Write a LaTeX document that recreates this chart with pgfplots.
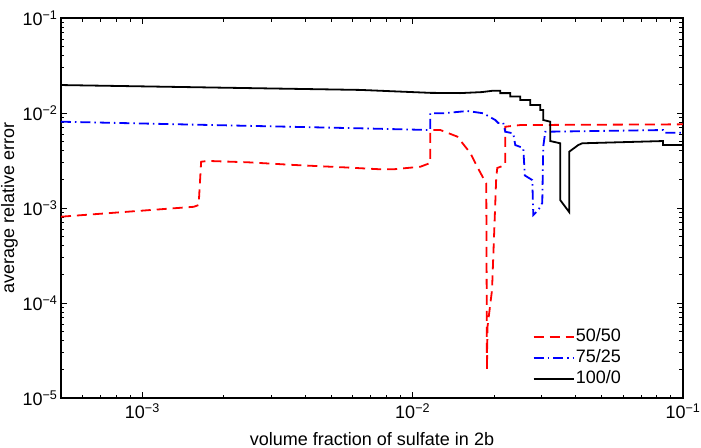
\documentclass[border=0pt]{standalone}
\usepackage{fontspec}
\setmainfont{Liberation Sans}
\usepackage{pgfplots}
\pgfplotsset{compat=1.18}
\newcommand{\figfont}{\fontsize{18bp}{21bp}\selectfont}
\newcommand{\tenpow}[1]{10\textsuperscript{−#1}}

\begin{document}
\begin{tikzpicture}
\begin{loglogaxis}[
  scale only axis, width=622bp, height=380bp,
  xmin=5e-4, xmax=0.1, ymin=1e-5, ymax=1e-1,
  xtick={1e-3,1e-2,1e-1},
  xticklabels={\tenpow{3},\tenpow{2},\tenpow{1}},
  minor xtick={6e-4,7e-4,8e-4,9e-4,2e-3,3e-3,4e-3,5e-3,6e-3,7e-3,8e-3,9e-3,
               2e-2,3e-2,4e-2,5e-2,6e-2,7e-2,8e-2,9e-2},
  ytick={1e-5,1e-4,1e-3,1e-2,1e-1},
  yticklabels={\tenpow{5},\tenpow{4},\tenpow{3},\tenpow{2},\tenpow{1}},
  minor ytick={2e-5,3e-5,4e-5,5e-5,6e-5,7e-5,8e-5,9e-5,
               2e-4,3e-4,4e-4,5e-4,6e-4,7e-4,8e-4,9e-4,
               2e-3,3e-3,4e-3,5e-3,6e-3,7e-3,8e-3,9e-3,
               2e-2,3e-2,4e-2,5e-2,6e-2,7e-2,8e-2,9e-2},
  tick align=inside, tick pos=both,
  major tick length=6bp, minor tick length=3.5bp,
  every tick/.style={black, line width=0.8bp},
  axis line style={line width=1.2bp},
  tick label style={font=\figfont, black},
  xticklabel style={yshift=-2bp},
  label style={font=\figfont},
  xlabel={volume fraction of sulfate in 2b},
  xlabel style={at={(axis description cs:0.5,-0.1237)}, anchor=base},
  ylabel={average relative error},
  ylabel style={at={(axis description cs:-0.083,0.5)}, anchor=center, rotate=0},
  legend style={font=\figfont, draw=none, fill=none,
    at={(rel axis cs:0.758,0.188)}, anchor=north west,
    inner sep=0pt, row sep=1bp,
    nodes={inner sep=1.5bp, text height=13bp, text depth=4bp}},
  legend cell align=left,
  legend image code/.code={\draw[#1] (0bp,0bp) -- (40bp,0bp);},
  every axis plot/.append style={line width=1.8bp},
]
% 50/50 mixture
\addplot[red, dash pattern=on 10bp off 6bp] coordinates {
  (5e-4,8.1e-4) (1.55e-3,1.03e-3) (1.615e-3,1.075e-3) (1.65e-3,3.07e-3)
  (1.743e-3,3.13e-3) (2.45e-3,3.03e-3) (3.62e-3,2.84e-3) (5.55e-3,2.68e-3)
  (7.6e-3,2.555e-3) (8.48e-3,2.555e-3) (1.068e-2,2.72e-3) (1.162e-2,2.98e-3)
  (1.162e-2,6.62e-3) (1.266e-2,6.62e-3) (1.463e-2,5.64e-3) (1.634e-2,3.79e-3)
  (1.735e-2,2.70e-3) (1.856e-2,1.89e-3) (1.872e-2,1.83e-3) (1.883e-2,1.97e-5)
  (1.892e-2,5.63e-5) (1.966e-2,1.37e-4) (2.038e-2,2.12e-3) (2.056e-2,2.64e-3)
  (2.2e-2,2.84e-3) (2.2e-2,7.17e-3) (2.5e-2,7.47e-3) (0.1,7.6e-3)
};
\addlegendentry{50/50}
% 75/25 mixture
\addplot[blue, dash pattern=on 10bp off 4bp on 1.5bp off 4bp] coordinates {
  (5e-4,8.1e-3) (6.41e-3,6.9e-3) (1.162e-2,6.62e-3) (1.162e-2,9.93e-3)
  (1.299e-2,9.93e-3) (1.593e-2,1.05e-2) (1.825e-2,9.93e-3) (2.021e-2,8.44e-3)
  (2.073e-2,7.85e-3) (2.163e-2,7.9e-3) (2.2e-2,6.35e-3) (2.355e-2,6.11e-3)
  (2.396e-2,4.6e-3) (2.565e-2,4.28e-3) (2.6e-2,2.2e-3) (2.77e-2,1.97e-3)
  (2.794e-2,8.44e-4) (2.915e-2,9.52e-4) (3.016e-2,1.13e-3) (3.041e-2,4.42e-3)
  (3.094e-2,6.35e-3) (8.44e-2,6.62e-3) (8.5e-2,6.2e-3) (0.1,6.2e-3)
};
\addlegendentry{75/25}
% pure sulfate
\addplot[black] coordinates {
  (5e-4,1.97e-2) (6.41e-3,1.75e-2) (1.162e-2,1.63e-2) (1.5e-2,1.62e-2)
  (1.8e-2,1.66e-2) (1.987e-2,1.718e-2) (2.109e-2,1.718e-2) (2.109e-2,1.62e-2)
  (2.297e-2,1.62e-2) (2.297e-2,1.49e-2) (2.5e-2,1.49e-2) (2.5e-2,1.37e-2)
  (2.722e-2,1.37e-2) (2.722e-2,1.214e-2) (2.964e-2,1.214e-2) (2.964e-2,1.075e-2)
  (3.041e-2,1.075e-2) (3.041e-2,8.44e-3) (3.228e-2,8.1e-3) (3.228e-2,5.07e-3)
  (3.513e-2,4.8e-3) (3.513e-2,1.214e-3) (3.794e-2,9.07e-4) (3.794e-2,3.91e-3)
  (4.097e-2,4.6e-3) (4.239e-2,4.8e-3) (8.44e-2,5.07e-3) (8.44e-2,4.6e-3)
  (0.1,4.6e-3)
};
\addlegendentry{100/0}
\end{loglogaxis}
\pgfresetboundingbox
\path[use as bounding box] (current axis.south west) ++(-61bp,-50bp) rectangle ++(701bp,448bp);
\end{tikzpicture}
\end{document}
